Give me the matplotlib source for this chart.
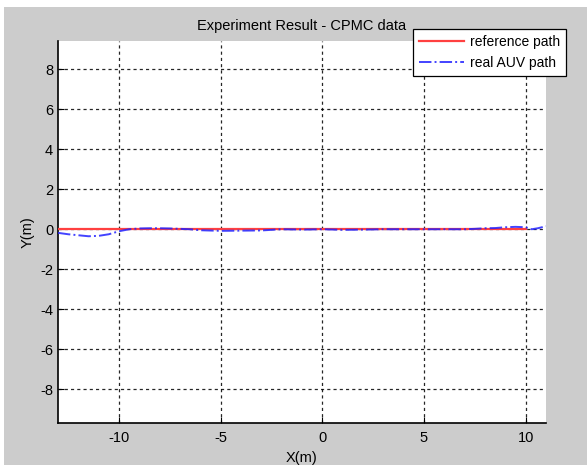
import matplotlib
matplotlib.use("Agg")
import matplotlib.pyplot as plt
from matplotlib.patches import Rectangle

ref_x = [-13.0, 10.0]
ref_y = [0.0, 0.0]

auv_x = [-13.0, -12.5, -12.0, -11.5, -11.0, -10.5, -10.0, -9.5, -9.0, -8.5, -8.0, -7.5,
         -7.0, -6.5, -6.0, -5.0, -4.0, -3.0, -2.5, -2.0, -1.0, 0.0, 1.0, 2.0, 3.0, 4.0,
         5.0, 6.0, 7.0, 7.5, 8.0, 8.5, 9.0, 9.5, 10.0, 10.3, 10.6, 11.0]
auv_y = [-0.18, -0.25, -0.3, -0.35, -0.33, -0.25, -0.1, 0.0, 0.04, 0.05, 0.05, 0.04,
         0.02, 0.0, -0.05, -0.08, -0.07, -0.06, -0.03, 0.0, -0.02, 0.0, -0.03, -0.02, 0.0, 0.0,
         0.0, 0.0, 0.0, 0.02, 0.05, 0.06, 0.1, 0.12, 0.1, 0.0, 0.05, 0.15]

x_ticks = [-10, -5, 0, 5, 10]
y_ticks = [-8, -6, -4, -2, 0, 2, 4, 6, 8]

plt.rcParams['font.family'] = ['Liberation Sans', 'DejaVu Sans']
plt.rcParams['axes.unicode_minus'] = False

W, H = 587, 465
fig = plt.figure(figsize=(W / 100, H / 100), dpi=100, facecolor='white')
fig.patches.append(Rectangle((4 / W, 0), 1 - 4 / W, 1 - 7 / H, transform=fig.transFigure,
                             facecolor='#cccccc', edgecolor='none', zorder=-10))

ax = fig.add_axes([58 / W, 1 - 423 / H, (546 - 58) / W, (423 - 40.7) / H])
ax.set_facecolor('white')

ax.plot(ref_x, ref_y, color='#ff4040', lw=1.6, label='reference path', zorder=3)
ax.plot(auv_x, auv_y, color='#2222ff', lw=1.4, ls='-.', label='real AUV path', zorder=4, alpha=0.85)

ax.set_xlim(-13, 11)
ax.set_ylim(-9.68, 9.42)
ax.set_xticks(x_ticks)
ax.set_yticks(y_ticks)
ax.tick_params(direction='in', length=4, labelsize=10.5, colors='black', pad=3.5)
ax.tick_params(axis='x', pad=6)
for s in ['top', 'right']:
    ax.spines[s].set_visible(False)
for s in ['left', 'bottom']:
    ax.spines[s].set_linewidth(1.2)
ax.grid(True, color='black', ls=(0, (2.5, 2.5)), lw=0.9, alpha=0.85)
ax.set_axisbelow(True)

ax.set_title('Experiment Result - CPMC data', fontsize=10.5, pad=8)
ax.set_xlabel('X(m)', fontsize=10.5, labelpad=4)
ax.set_ylabel('Y(m)', fontsize=10.5, labelpad=4)

leg = fig.legend(loc='upper left', bbox_to_anchor=(413 / W, 1 - 29 / H), fontsize=10,
                 frameon=True, fancybox=False, framealpha=1, edgecolor='black',
                 handlelength=3.2, borderpad=0.45, labelspacing=0.45, handletextpad=0.45,
                 borderaxespad=0)
leg.get_frame().set_linewidth(0.9)

fig.savefig('out.png', dpi=100, facecolor=fig.get_facecolor())
